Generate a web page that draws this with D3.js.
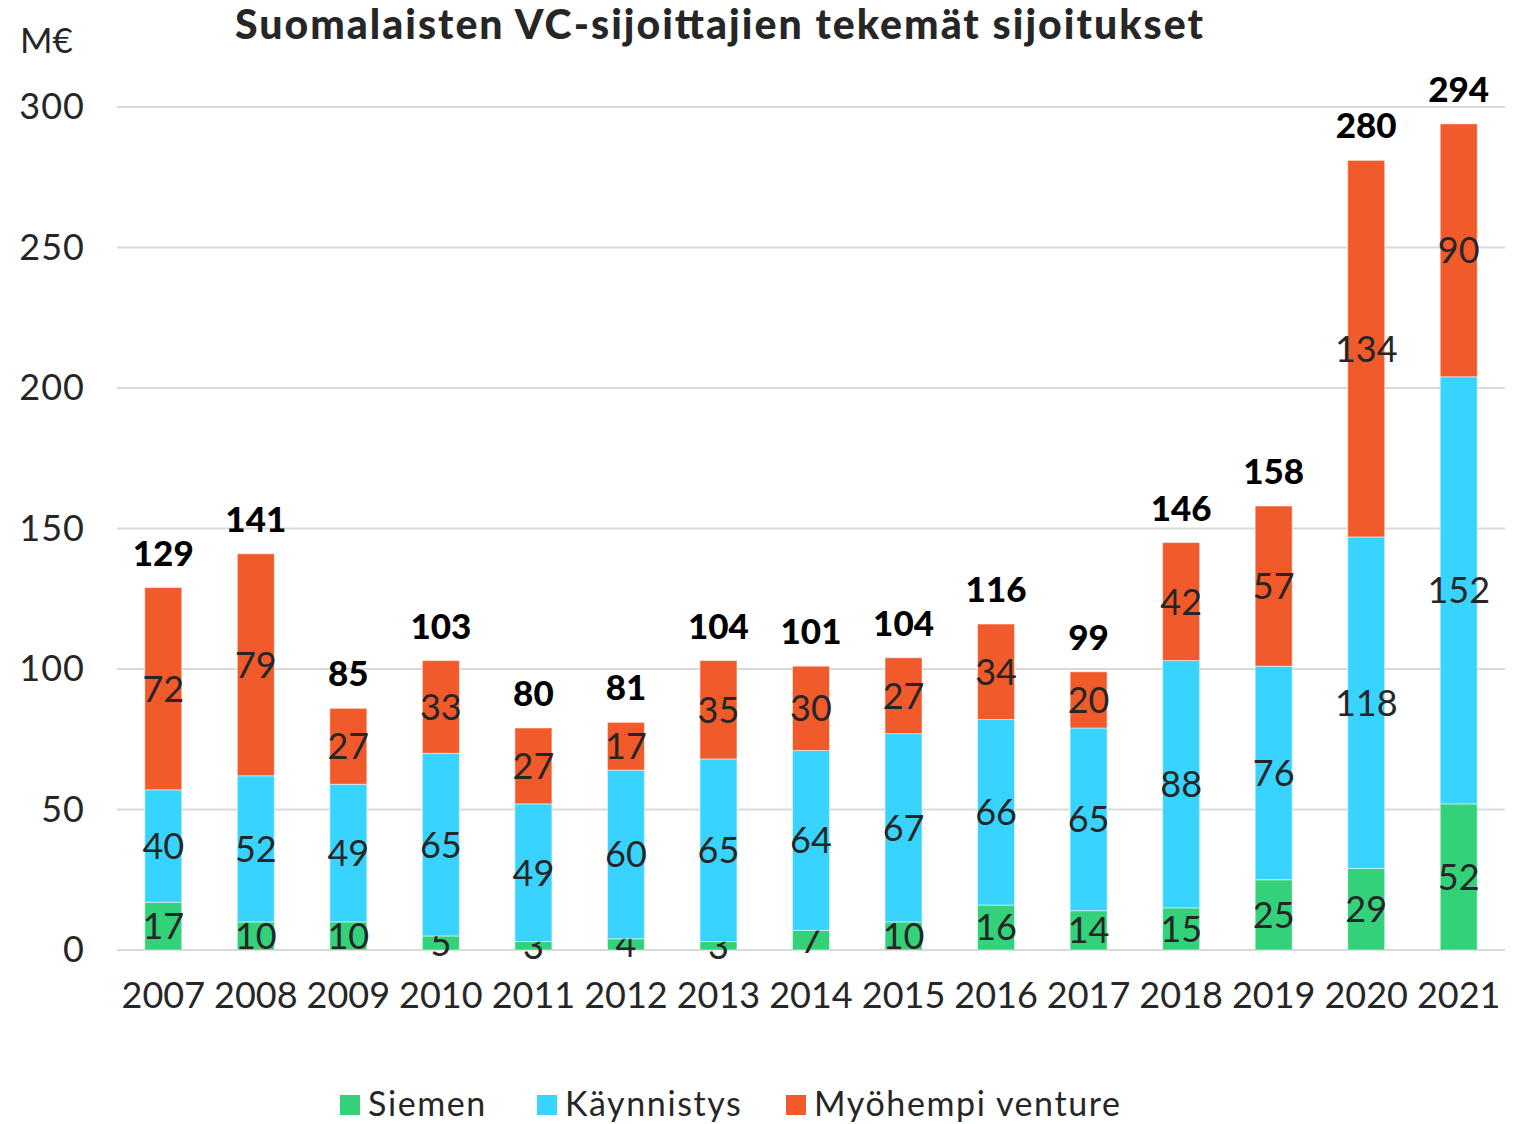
<!DOCTYPE html>
<html>
<head>
<meta charset="utf-8">
<script src="https://cdn.jsdelivr.net/npm/d3@7"></script>
<style>
  body { margin: 0; background: #fff; }
  text { font-family: Lato, "Open Sans", sans-serif; }
</style>
</head>
<body>
<div id="vis"></div>
<script>
// Chart data
const years = ["2007", "2008", "2009", "2010", "2011", "2012", "2013", "2014", "2015", "2016", "2017", "2018", "2019", "2020", "2021"]
const siemen = [17, 10, 10, 5, 3, 4, 3, 7, 10, 16, 14, 15, 25, 29, 52]
const kaynnistys = [40, 52, 49, 65, 49, 60, 65, 64, 67, 66, 65, 88, 76, 118, 152]
const myohempi = [72, 79, 27, 33, 27, 17, 35, 30, 27, 34, 20, 42, 57, 134, 90]
const totals = [129, 141, 85, 103, 80, 81, 104, 101, 104, 116, 99, 146, 158, 280, 294]
const seriesNames = ["Siemen", "Käynnistys", "Myöhempi venture"]
const yTicks = [0, 50, 100, 150, 200, 250, 300]

const colors = ["#33D17A", "#38D3FF", "#F15A2B"]
const textColor = "#262626"

const W = 1526, H = 1124
const plot = {left: 117, right: 1505, top: 107, bottom: 950}

const rows = years.map((y, i) => ({year: y, s0: siemen[i], s1: kaynnistys[i], s2: myohempi[i], total: totals[i]}))
const stack = d3.stack().keys(["s0", "s1", "s2"])(rows)

const x = d3.scaleBand()
    .domain(years)
    .range([plot.left, plot.right])
    .paddingInner(0.6)
    .paddingOuter(0.3)

const y = d3.scaleLinear()
    .domain([0, 300])
    .range([plot.bottom, plot.top])

const svg = d3.select("#vis").append("svg")
    .attr("width", W)
    .attr("height", H)

// gridlines
svg.append("g")
    .selectAll("line")
    .data(yTicks)
    .join("line")
    .attr("x1", plot.left)
    .attr("x2", plot.right)
    .attr("y1", d => y(d))
    .attr("y2", d => y(d))
    .attr("stroke", "#d9d9d9")
    .attr("stroke-width", 2)

// y axis labels
const yAxis = svg.append("g")
    .attr("transform", `translate(${plot.left - 32},0)`)
    .call(d3.axisLeft(y).tickValues(yTicks).tickSize(0).tickPadding(0))
yAxis.select(".domain").remove()
yAxis.selectAll("text")
    .attr("font-size", 36)
    .attr("letter-spacing", 1)
    .attr("fill", textColor)
    .attr("font-family", "Lato, sans-serif")

// x axis labels
const xAxis = svg.append("g")
    .attr("transform", `translate(0,${plot.bottom + 32})`)
    .call(d3.axisBottom(x).tickSize(0).tickPadding(0))
xAxis.select(".domain").remove()
xAxis.selectAll("text")
    .attr("font-size", 36)
    .attr("fill", textColor)
    .attr("font-family", "Lato, sans-serif")

// stacked bars
const layers = svg.append("g")
    .selectAll("g")
    .data(stack)
    .join("g")
    .attr("fill", (d, i) => colors[i])

layers.selectAll("rect")
    .data(d => d)
    .join("rect")
    .attr("x", d => x(d.data.year))
    .attr("width", x.bandwidth())
    .attr("y", d => y(d[1]))
    .attr("height", d => y(d[0]) - y(d[1]))
    .attr("stroke", "rgba(255,255,255,0.5)")
    .attr("stroke-width", 1)

// segment labels
layers.selectAll("text")
    .data(d => d.map(v => ({v: v, val: v[1] - v[0]})))
    .join("text")
    .attr("x", d => x(d.v.data.year) + x.bandwidth() / 2)
    .attr("y", d => y((d.v[0] + d.v[1]) / 2))
    .attr("dy", "0.36em")
    .attr("text-anchor", "middle")
    .attr("font-size", 36)
    .attr("fill", textColor)
    .text(d => d.val)

// totals
svg.append("g")
    .selectAll("text")
    .data(rows)
    .join("text")
    .attr("x", d => x(d.year) + x.bandwidth() / 2)
    .attr("y", d => y(d.s0 + d.s1 + d.s2) - 22)
    .attr("text-anchor", "middle")
    .attr("font-size", 35)
    .attr("font-weight", 900)
    .attr("fill", "#000")
    .text(d => d.total)

// title and unit
svg.append("text")
    .attr("x", 235)
    .attr("y", 39)
    .attr("font-size", 41)
    .attr("font-weight", 900)
    .attr("textLength", 968)
    .attr("lengthAdjust", "spacing")
    .attr("fill", textColor)
    .text("Suomalaisten VC-sijoittajien tekemät sijoitukset")

svg.append("text")
    .attr("x", 20)
    .attr("y", 53)
    .attr("font-size", 35)
    .attr("fill", textColor)
    .text("M€")

// legend
const legendX = [340, 537, 786]
const legend = svg.append("g")
    .selectAll("g")
    .data(seriesNames)
    .join("g")
    .attr("transform", (d, i) => `translate(${legendX[i]},1104)`)
legend.append("rect")
    .attr("x", 0)
    .attr("y", -9)
    .attr("width", 20)
    .attr("height", 20)
    .attr("fill", (d, i) => colors[i])
legend.append("text")
    .attr("x", 28)
    .attr("dy", "0.34em")
    .attr("font-size", 34)
    .attr("letter-spacing", 1.6)
    .attr("fill", textColor)
    .text(d => d)
</script>
</body>
</html>
